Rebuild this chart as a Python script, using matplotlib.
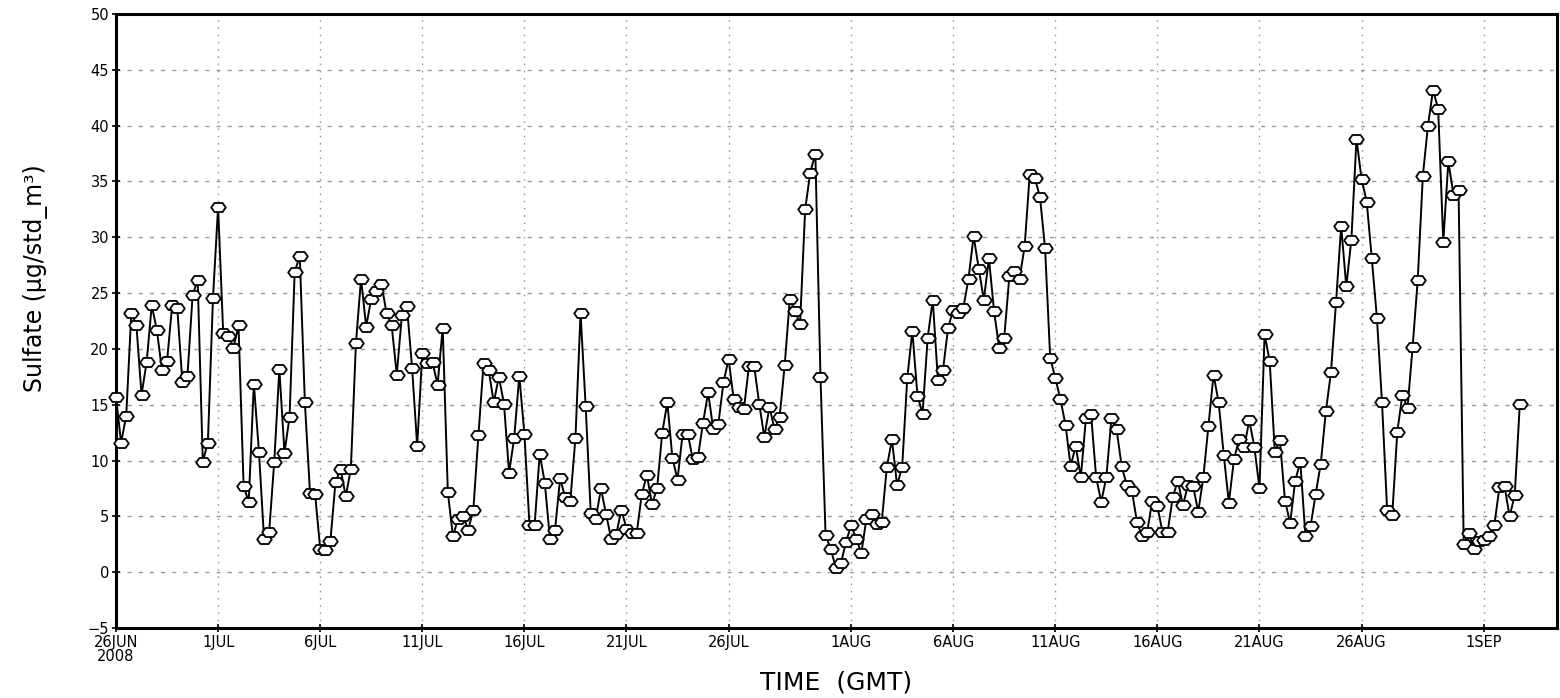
import matplotlib
matplotlib.use("Agg")
import matplotlib.pyplot as plt
from matplotlib.path import Path
import pandas as pd

# 6-hourly sulfate concentrations starting 26 Jun 2008 00Z
sulfate = [
    15.7, 11.6, 14.0, 23.2, 22.1, 15.9, 18.8, 23.9, 21.7, 18.1,
    18.9, 23.9, 23.7, 17.0, 17.6, 24.8, 26.2, 9.9, 11.6, 24.6,
    32.7, 21.4, 21.2, 20.1, 22.1, 7.7, 6.3, 16.9, 10.8, 3.0,
    3.6, 9.9, 18.2, 10.7, 13.9, 26.9, 28.3, 15.2, 7.1, 7.0,
    2.1, 2.0, 2.8, 8.1, 9.2, 6.8, 9.2, 20.5, 26.3, 22.0,
    24.5, 25.2, 25.8, 23.2, 22.1, 17.7, 23.0, 23.8, 18.3, 11.3,
    19.6, 18.7, 18.8, 16.8, 21.9, 7.2, 3.2, 4.8, 5.0, 3.8,
    5.6, 12.3, 18.7, 18.1, 15.2, 17.5, 15.1, 8.9, 12.0, 17.6,
    12.4, 4.2, 4.2, 10.6, 8.0, 3.0, 3.8, 8.4, 6.7, 6.4,
    12.0, 23.2, 14.9, 5.3, 4.8, 7.5, 5.2, 3.0, 3.4, 5.6,
    3.9, 3.5, 3.5, 7.0, 8.7, 6.1, 7.5, 12.5, 15.2, 10.2,
    8.3, 12.4, 12.4, 10.1, 10.3, 13.4, 16.1, 12.8, 13.3, 17.0,
    19.1, 15.5, 14.8, 14.6, 18.5, 18.5, 15.1, 12.1, 14.8, 12.8,
    13.9, 18.6, 24.5, 23.4, 22.2, 32.5, 35.8, 37.5, 17.5, 3.3,
    2.1, 0.4, 0.8, 2.7, 4.2, 3.0, 1.7, 4.8, 5.2, 4.3,
    4.5, 9.4, 11.9, 7.8, 9.4, 17.4, 21.6, 15.8, 14.2, 21.0,
    24.4, 17.2, 18.1, 21.9, 23.5, 23.2, 23.7, 26.3, 30.1, 27.2,
    24.4, 28.1, 23.4, 20.1, 21.0, 26.5, 27.0, 26.3, 29.2, 35.7,
    35.3, 33.6, 29.0, 19.2, 17.4, 15.5, 13.2, 9.5, 11.3, 8.5,
    13.8, 14.2, 8.5, 6.3, 8.5, 13.8, 12.8, 9.5, 7.8, 7.3,
    4.5, 3.2, 3.6, 6.4, 5.9, 3.6, 3.6, 6.7, 8.2, 6.0,
    7.8, 7.7, 5.4, 8.5, 13.1, 17.7, 15.2, 10.5, 6.2, 10.1,
    11.9, 11.2, 13.6, 11.2, 7.5, 21.3, 18.9, 10.8, 11.8, 6.4,
    4.4, 8.2, 9.9, 3.2, 4.1, 7.0, 9.7, 14.4, 17.9, 24.2,
    31.0, 25.6, 29.8, 38.8, 35.2, 33.2, 28.1, 22.8, 15.2, 5.6,
    5.1, 12.6, 15.9, 14.7, 20.2, 26.2, 35.5, 40.0, 43.2, 41.5,
    29.6, 36.8, 33.8, 34.2, 2.5, 3.5, 2.1, 2.8, 2.9, 3.2,
    4.2, 7.6, 7.7, 5.0, 6.9, 15.1,
]

start = pd.Timestamp("2008-06-26 00:00")
times = pd.date_range(start, periods=len(sulfate), freq="6h")

tick_dates = ["2008-06-26", "2008-07-01", "2008-07-06", "2008-07-11",
              "2008-07-16", "2008-07-21", "2008-07-26", "2008-08-01",
              "2008-08-06", "2008-08-11", "2008-08-16", "2008-08-21",
              "2008-08-26", "2008-09-01"]
tick_labels = ["26JUN\n2008", "1JUL", "6JUL", "11JUL", "16JUL", "21JUL",
               "26JUL", "1AUG", "6AUG", "11AUG", "16AUG", "21AUG",
               "26AUG", "1SEP"]
y_ticks = list(range(-5, 51, 5))

plt.rcParams["font.family"] = ["DejaVu Sans"]

fig = plt.figure(figsize=(15.6, 6.98), dpi=100)
ax = fig.add_axes([116 / 1560, 1 - 628 / 698, 1441 / 1560, 614 / 698])

# flattened hexagon marker
hexv = [(-1.0, 0.0), (-0.55, 0.62), (0.55, 0.62), (1.0, 0.0),
        (0.55, -0.62), (-0.55, -0.62), (-1.0, 0.0)]
hex_marker = Path(hexv, [Path.MOVETO] + [Path.LINETO] * 5 + [Path.CLOSEPOLY])

ax.plot(times, sulfate, color="black", lw=1.4, marker=hex_marker,
        ms=10.5, mfc="white", mec="black", mew=1.3, zorder=3, clip_on=False)

ax.set_xlim(start, start + pd.Timedelta(days=70.57))
ax.set_ylim(-5, 50)

ax.set_xticks(pd.to_datetime(tick_dates))
ax.set_xticklabels(tick_labels, fontsize=10.5, linespacing=0.95,
                   multialignment="center")
ax.set_yticks(y_ticks)
ax.set_yticklabels([str(v).replace("-", "\u2212") for v in y_ticks],
                   fontsize=10.5)

ax.tick_params(axis="both", direction="inout", length=6, width=1.2,
               color="black", pad=2)

# grid: dotted verticals, dashed horizontals
for d in pd.to_datetime(tick_dates)[1:]:
    ax.axvline(d, color="#9a9a9a", lw=1.0, ls=(0, (1.2, 4)), zorder=1)
for v in y_ticks[1:-1]:
    ax.axhline(v, color="#9a9a9a", lw=1.0, ls=(0, (3, 5)), zorder=1)

for s in ax.spines.values():
    s.set_linewidth(2.2)
    s.set_color("black")

ax.set_xlabel("TIME  (GMT)", fontsize=18)
ax.xaxis.label.set_va("center")
ax.xaxis.set_label_coords(0.5, -0.089)

ax.set_ylabel("Sulfate (\u03bcg/std_m\u00b3)", fontsize=17)
ax.yaxis.label.set_va("center")
ax.yaxis.set_label_coords(-0.056, 0.57)

fig.savefig("out.png", dpi=100)
